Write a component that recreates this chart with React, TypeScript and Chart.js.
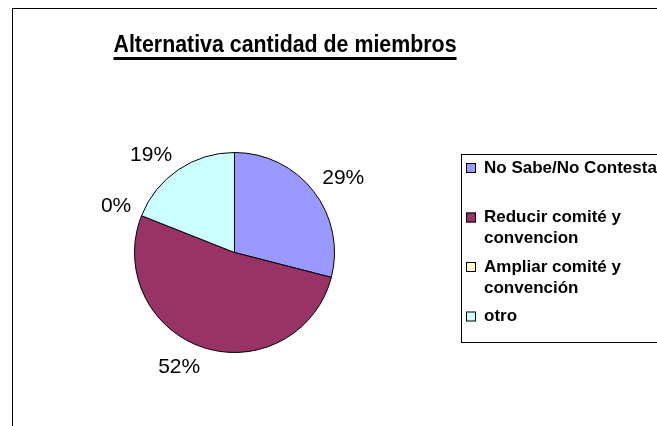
import { useEffect, useRef } from "react";
import { Chart, registerables } from "chart.js";

Chart.register(...registerables);

const TITLE = "Alternativa cantidad de miembros";
const categories: string[][] = [
  ["No Sabe/No Contesta"],
  ["Reducir comité y", "convencion"],
  ["Ampliar comité y", "convención"],
  ["otro"],
];
const values = [29, 52, 0, 19];
const sliceColors = ["#9999FF", "#993366", "#FFFFCC", "#CCFFFF"];

const FONT = '"Liberation Sans", Arial, sans-serif';

const decor = {
  id: "decor",
  beforeDraw(chart: any) {
    const ctx = chart.ctx as CanvasRenderingContext2D;
    ctx.save();
    ctx.fillStyle = "#ffffff";
    ctx.fillRect(0, 0, chart.width, chart.height);
    ctx.fillStyle = "#000000";
    ctx.fillRect(12, 8, chart.width - 12, 1);
    ctx.fillRect(12, 8, 1, chart.height - 8);
    ctx.restore();
  },
  afterDraw(chart: any) {
    const ctx = chart.ctx as CanvasRenderingContext2D;
    // Title (condensed, underlined)
    ctx.save();
    ctx.font = `bold 24px ${FONT}`;
    ctx.fillStyle = "#000";
    const tw = ctx.measureText(TITLE).width;
    ctx.translate(285, 52);
    ctx.scale(0.89, 1);
    ctx.textAlign = "center";
    ctx.textBaseline = "alphabetic";
    ctx.fillText(TITLE, 0, 0);
    ctx.fillRect(-tw / 2, 5, tw, 3);
    ctx.restore();

    // Percent labels
    const meta = chart.getDatasetMeta(0);
    const data = chart.data.datasets[0].data as number[];
    const total = data.reduce((a, b) => a + b, 0);
    ctx.save();
    const fs = 21;
    ctx.font = `${fs}px ${FONT}`;
    ctx.fillStyle = "#000";
    meta.data.forEach((el: any, i: number) => {
      const p = el.getProps(["x", "y", "startAngle", "endAngle", "outerRadius"], true);
      const mid = (p.startAngle + p.endAngle) / 2;
      const dx = Math.cos(mid);
      const dy = Math.sin(mid);
      const r = p.outerRadius + 11;
      const ax = p.x + r * dx;
      const ay = p.y + r * dy;
      const txt = Math.round((data[i] / total) * 100) + "%";
      ctx.textAlign = dx >= 0 ? "left" : "right";
      ctx.textBaseline = "alphabetic";
      const by = dy < 0 ? ay : ay + fs * 0.716;
      ctx.fillText(txt, ax, by);
    });
    ctx.restore();

    // Legend
    ctx.save();
    ctx.strokeStyle = "#000";
    ctx.lineWidth = 1;
    ctx.strokeRect(461.5, 154.5, 400, 188);
    ctx.font = `bold 17px ${FONT}`;
    ctx.textAlign = "left";
    ctx.textBaseline = "middle";
    const labels = chart.data.labels as string[][];
    const colors = chart.data.datasets[0].backgroundColor as string[];
    labels.forEach((lines, i) => {
      const cy = 168 + i * 49.5;
      ctx.fillStyle = colors[i];
      ctx.fillRect(466, cy - 5, 10, 10);
      ctx.strokeStyle = "#000";
      ctx.strokeRect(466.5, cy - 4.5, 9, 9);
      ctx.fillStyle = "#000";
      lines.forEach((ln, j) => {
        ctx.fillText(ln, 484, cy + j * 21);
      });
    });
    ctx.restore();
  },
};

export default function App() {
  const ref = useRef<HTMLCanvasElement | null>(null);
  useEffect(() => {
    if (!ref.current) return;
    const chart = new Chart(ref.current, {
      type: "pie",
      data: {
        labels: categories,
        datasets: [
          {
            data: values,
            backgroundColor: sliceColors,
            borderColor: "#000000",
            borderWidth: 1,
          },
        ],
      },
      options: {
        responsive: false,
        animation: false,
        layout: { padding: { left: 134, right: 322, top: 152, bottom: 73 } },
        plugins: {
          legend: { display: false },
          tooltip: { enabled: false },
          title: { display: false },
        },
        events: [],
      },
      plugins: [decor],
    });
    return () => chart.destroy();
  }, []);
  return (
    <div style={{ position: "fixed", left: 0, top: 0, width: 657, height: 426, background: "#fff" }}>
      <canvas ref={ref} width={657} height={426} style={{ width: 657, height: 426, display: "block" }} />
    </div>
  );
}
